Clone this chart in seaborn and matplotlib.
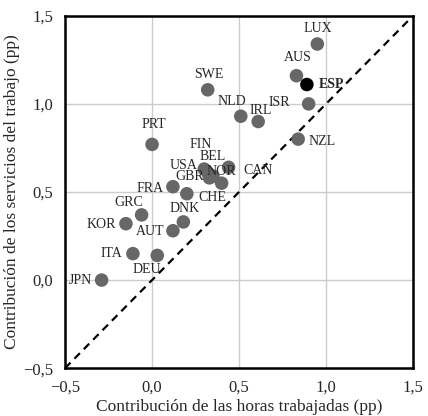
import matplotlib
matplotlib.use('Agg')
import matplotlib.pyplot as plt
import seaborn as sns
import pandas as pd

# Datos: contribución de horas trabajadas vs servicios del trabajo (pp)
paises = ['LUX', 'AUS', 'ESP', 'ISR', 'NZL', 'IRL', 'NLD', 'SWE', 'PRT',
          'USA', 'FIN', 'BEL', 'NOR', 'CAN', 'GBR', 'FRA', 'CHE', 'GRC',
          'KOR', 'DNK', 'AUT', 'ITA', 'DEU', 'JPN']
horas = [0.95, 0.83, 0.89, 0.90, 0.84, 0.61, 0.51, 0.32, 0.00,
         0.30, 0.32, 0.35, 0.40, 0.44, 0.33, 0.12, 0.20, -0.06,
         -0.15, 0.18, 0.12, -0.11, 0.03, -0.29]
servicios = [1.34, 1.16, 1.11, 1.00, 0.80, 0.90, 0.93, 1.08, 0.77,
             0.63, 0.61, 0.59, 0.55, 0.64, 0.58, 0.53, 0.49, 0.37,
             0.32, 0.33, 0.28, 0.15, 0.14, 0.00]

# desplazamiento de las etiquetas (pixeles)
offsets = {'LUX': (1, 15), 'AUS': (1, 18), 'ESP': (25, 0), 'ISR': (-29, 1),
           'NZL': (24, -2), 'IRL': (3, 11), 'NLD': (-9, 15), 'SWE': (1, 15),
           'PRT': (2, 20), 'USA': (-21, 4), 'FIN': (-7, 28), 'BEL': (0, 20),
           'NOR': (0, 12), 'CAN': (29, -3), 'GBR': (-20, 1), 'FRA': (-23, -2),
           'CHE': (25, -4), 'GRC': (-13, 12), 'KOR': (-25, -1), 'DNK': (1, 13),
           'AUT': (-23, -1), 'ITA': (-22, 0), 'DEU': (-10, -14), 'JPN': (-21, 0)}

df = pd.DataFrame({'pais': paises, 'horas': horas, 'servicios': servicios})
df['grupo'] = ['ESP' if p == 'ESP' else 'otros' for p in df['pais']]

sns.set_style('white')
plt.rcParams['font.family'] = ['Liberation Serif', 'DejaVu Serif']

fig = plt.figure(figsize=(4.28, 4.16), dpi=100)
ax = fig.add_axes([0.152, 0.115, 0.813, 0.847])

ax.grid(True, color='#cccccc', linewidth=1)
ax.set_axisbelow(True)
ax.plot([-0.5, 1.5], [-0.5, 1.5], color='black', linestyle=(0, (3.5, 2.5)),
        linewidth=1.6, zorder=2)

sns.scatterplot(data=df, x='horas', y='servicios', hue='grupo',
                palette={'otros': '#676767', 'ESP': '#000000'},
                s=95, edgecolor='none', legend=False, ax=ax, zorder=3)

for p, x, y in zip(paises, horas, servicios):
    dx, dy = offsets[p]
    ax.annotate(p, (x, y), xytext=(dx, dy), textcoords='offset pixels',
                ha='center', va='center', fontsize=10,
                fontweight='bold' if p == 'ESP' else 'normal', zorder=4)

ax.set_xlim(-0.5, 1.5)
ax.set_ylim(-0.5, 1.5)
ticks = [-0.5, 0.0, 0.5, 1.0, 1.5]
labels = ['\u22120,5', '0,0', '0,5', '1,0', '1,5']
ax.set_xticks(ticks)
ax.set_xticklabels(labels)
ax.set_yticks(ticks)
ax.set_yticklabels(labels)
ax.tick_params(direction='out', length=5, width=1.8, color='black', labelsize=12)
for s in ax.spines.values():
    s.set_color('black')
    s.set_linewidth(1.8)

ax.set_xlabel('Contribución de las horas trabajadas (pp)', fontsize=12.5, labelpad=2)
ax.set_ylabel('Contribución de los servicios del trabajo (pp)', fontsize=12.5, labelpad=2)

fig.savefig('out.png', dpi=100)
